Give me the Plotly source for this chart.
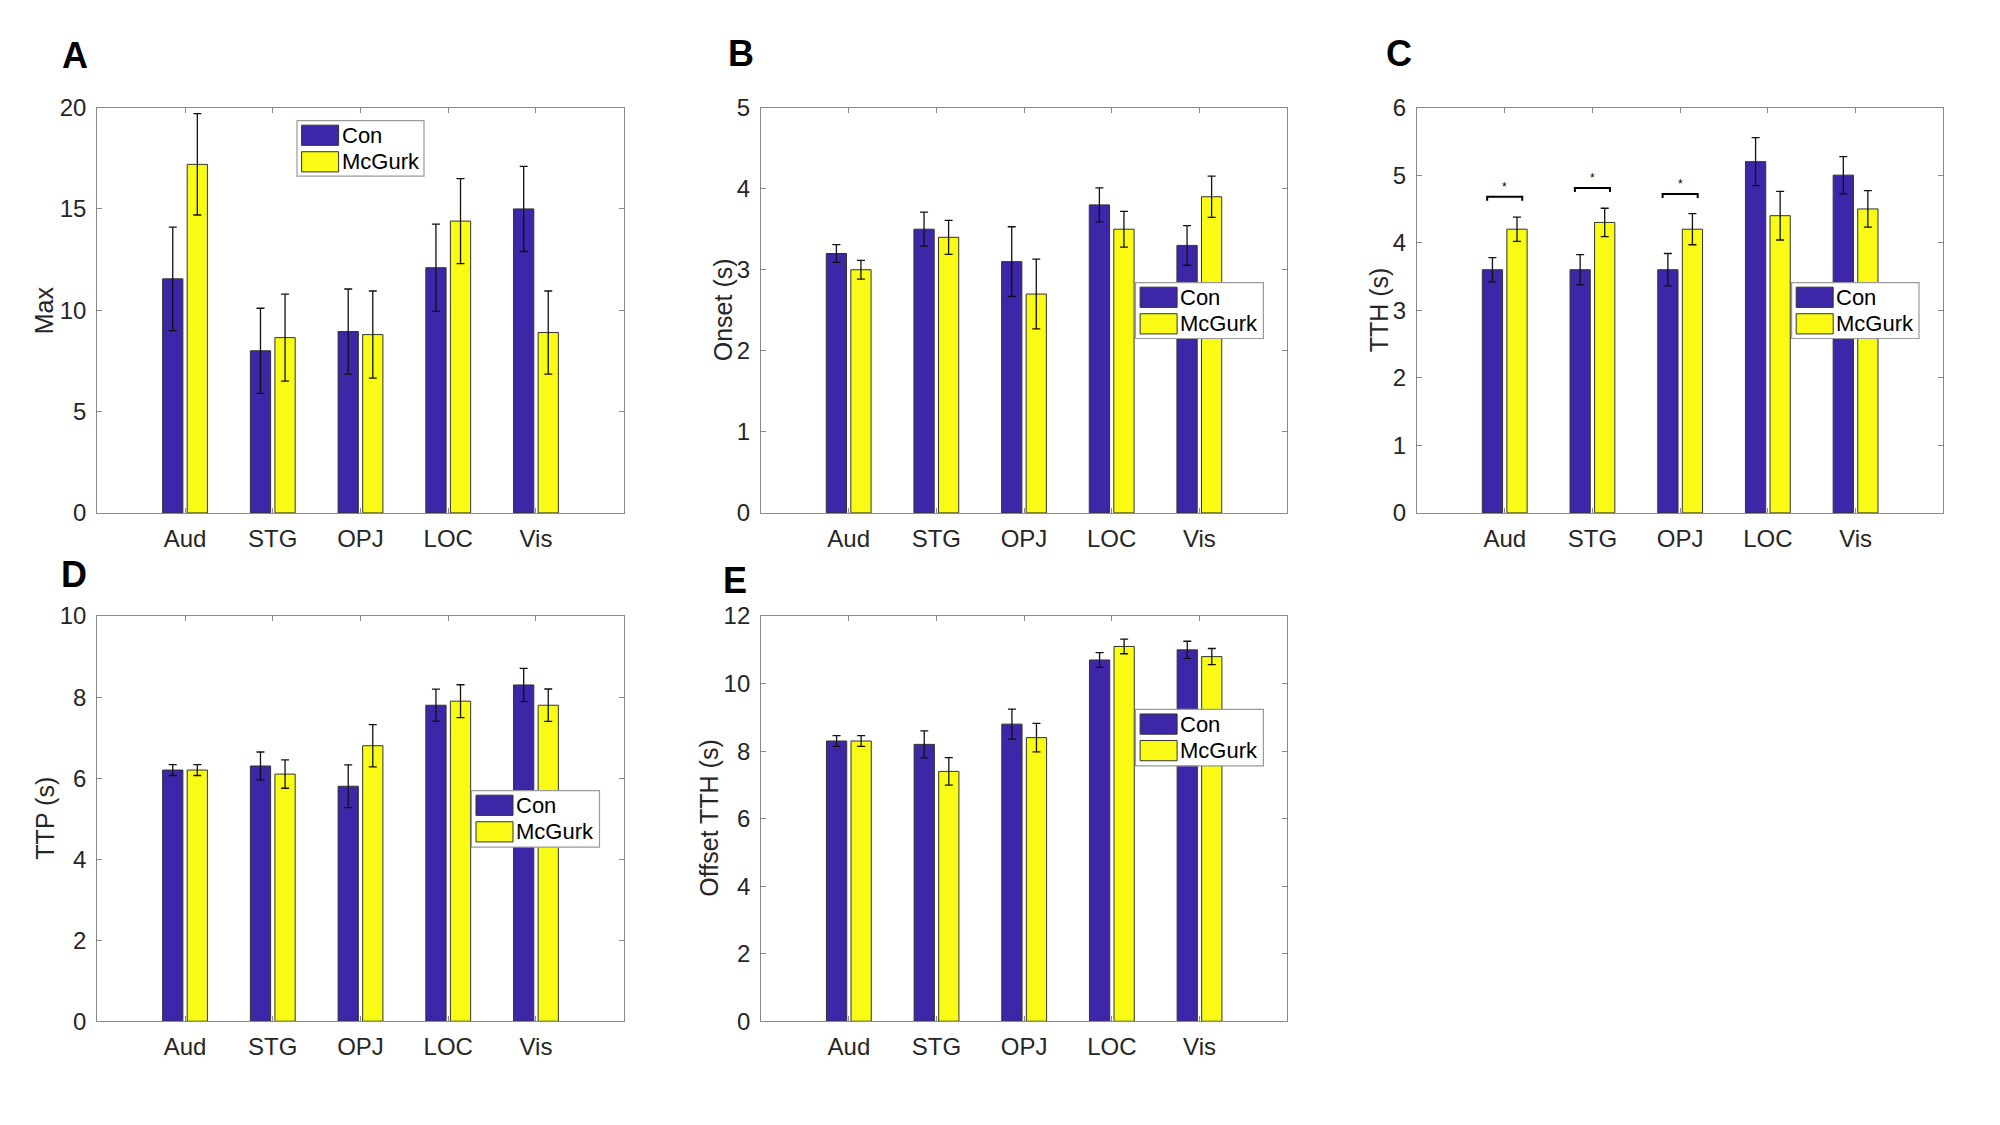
import plotly.graph_objects as go

# ---------------- data ----------------
categories = ["Aud", "STG", "OPJ", "LOC", "Vis"]
series_names = ["Con", "McGurk"]

max_con = [11.55, 8.0, 8.95, 12.1, 15.0]
max_con_err = [2.55, 2.1, 2.1, 2.15, 2.1]
max_mcg = [17.2, 8.65, 8.8, 14.4, 8.9]
max_mcg_err = [2.5, 2.15, 2.15, 2.1, 2.05]

onset_con = [3.2, 3.5, 3.1, 3.8, 3.3]
onset_con_err = [0.11, 0.21, 0.43, 0.21, 0.245]
onset_mcg = [3.0, 3.4, 2.7, 3.5, 3.9]
onset_mcg_err = [0.115, 0.21, 0.43, 0.22, 0.255]

tth_con = [3.6, 3.6, 3.6, 5.2, 5.0]
tth_con_err = [0.18, 0.225, 0.24, 0.355, 0.275]
tth_mcg = [4.2, 4.3, 4.2, 4.4, 4.5]
tth_mcg_err = [0.18, 0.21, 0.23, 0.36, 0.27]

ttp_con = [6.2, 6.3, 5.8, 7.8, 8.3]
ttp_con_err = [0.135, 0.345, 0.53, 0.395, 0.41]
ttp_mcg = [6.2, 6.1, 6.8, 7.9, 7.8]
ttp_mcg_err = [0.135, 0.35, 0.52, 0.405, 0.40]

off_con = [8.3, 8.2, 8.8, 10.7, 11.0]
off_con_err = [0.16, 0.4, 0.445, 0.22, 0.255]
off_mcg = [8.3, 7.4, 8.4, 11.1, 10.8]
off_mcg_err = [0.16, 0.405, 0.42, 0.215, 0.24]

# significance brackets in panel C: (category, bracket level, label)
sig_cats = ["Aud", "STG", "OPJ"]
sig_levels = [4.68, 4.81, 4.72]
sig_labels = ["*", "*", "*"]

# ---------------- styling ----------------
W, H = 2000, 1125
CON_COLOR = "rgb(62,38,168)"
MCG_COLOR = "rgb(249,251,21)"
EDGE = "#333333"
AXCOL = "#8a8a8a"
TXT = "#262626"
FONT = "Liberation Sans, Arial, Helvetica, sans-serif"


def px2x(px):
    return px / W


def px2y(py):
    return 1 - py / H


panels = [
    dict(letter="A", ytitle="Max", con=max_con, cerr=max_con_err, mcg=max_mcg, merr=max_mcg_err,
         yr=[0, 20], dt=5, box=(89.3, 615.7, 87.7, 503.0), lpos=(67, 34.5), yt_x=36,
         leg=(289, 101, 416, 158)),
    dict(letter="B", ytitle="Onset (s)", con=onset_con, cerr=onset_con_err, mcg=onset_mcg, merr=onset_mcg_err,
         yr=[0, 5], dt=1, box=(753.0, 1279.0, 87.7, 503.0), lpos=(733, 32), yt_x=715,
         leg=(1127.5, 267, 1255.4, 324.3)),
    dict(letter="C", ytitle="TTH (s)", con=tth_con, cerr=tth_con_err, mcg=tth_mcg, merr=tth_mcg_err,
         yr=[0, 6], dt=1, box=(1409.0, 1935.3, 87.7, 503.0), lpos=(1390.5, 32), yt_x=1371,
         leg=(1783.6, 267, 1911, 324.3)),
    dict(letter="D", ytitle="TTP (s)", con=ttp_con, cerr=ttp_con_err, mcg=ttp_mcg, merr=ttp_mcg_err,
         yr=[0, 10], dt=2, box=(89.3, 615.7, 608.7, 1023.8), lpos=(66.3, 566), yt_x=37,
         leg=(463.4, 787.5, 591.5, 845.4)),
    dict(letter="E", ytitle="Offset TTH (s)", con=off_con, cerr=off_con_err, mcg=off_mcg, merr=off_mcg_err,
         yr=[0, 12], dt=2, box=(753.2, 1279.2, 608.7, 1023.8), lpos=(727.4, 572), yt_x=701,
         leg=(1127.5, 704.3, 1255.4, 762.1)),
]

fig = go.Figure()
shapes = []
annotations = []

for i, p in enumerate(panels):
    n = "" if i == 0 else str(i + 1)
    xa, ya = "x" + n, "y" + n
    for name, vals, errs, col in [(series_names[0], p["con"], p["cerr"], CON_COLOR),
                                  (series_names[1], p["mcg"], p["merr"], MCG_COLOR)]:
        fig.add_trace(go.Bar(
            x=categories, y=vals, name=name, xaxis=xa, yaxis=ya, showlegend=False,
            marker=dict(color=col, line=dict(color=EDGE, width=1)),
            error_y=dict(type="data", array=errs, visible=True, color="#111111",
                         thickness=1.3, width=4),
        ))
    x0, x1, yt, yb = p["box"]
    axis_common = dict(showline=True, linecolor=AXCOL, linewidth=1.2, mirror="ticks",
                       ticks="inside", ticklen=5, tickcolor=AXCOL, showgrid=False,
                       zeroline=False, tickfont=dict(family=FONT, size=24, color=TXT))
    fig.layout["xaxis" + n] = dict(domain=[px2x(x0), px2x(x1)], anchor=ya,
                                   range=[-1, 5], type="category",
                                   ticklabelstandoff=4, **axis_common)
    fig.layout["yaxis" + n] = dict(domain=[px2y(yb), px2y(yt)], anchor=xa,
                                   range=p["yr"], dtick=p["dt"], tick0=0,
                                   ticklabelstandoff=5, **axis_common)
    # panel letter
    annotations.append(dict(text="<b>%s</b>" % p["letter"], x=px2x(p["lpos"][0]), y=px2y(p["lpos"][1]),
                            xref="paper", yref="paper", showarrow=False, xanchor="center", yanchor="middle",
                            font=dict(family=FONT, size=36, color="#000000")))
    # y title
    annotations.append(dict(text=p["ytitle"], x=px2x(p["yt_x"]), y=px2y((yt + yb) / 2),
                            xref="paper", yref="paper", showarrow=False, textangle=-90,
                            xanchor="center", yanchor="middle",
                            font=dict(family=FONT, size=25, color=TXT)))
    # legend box (drawn)
    lx0, ly0, lx1, ly1 = p["leg"]
    shapes.append(dict(type="rect", xref="paper", yref="paper",
                       x0=px2x(lx0), x1=px2x(lx1), y0=px2y(ly1), y1=px2y(ly0),
                       line=dict(color="#9a9a9a", width=1.2), fillcolor="white", layer="above"))
    for k, (name, col) in enumerate([(series_names[0], CON_COLOR), (series_names[1], MCG_COLOR)]):
        sy0 = ly0 + 4.7 + k * 27.2
        sy1 = sy0 + 20.7
        shapes.append(dict(type="rect", xref="paper", yref="paper",
                           x0=px2x(lx0 + 4.6), x1=px2x(lx0 + 41.6), y0=px2y(sy1), y1=px2y(sy0),
                           line=dict(color=EDGE, width=1), fillcolor=col, layer="above"))
        annotations.append(dict(text=name, x=px2x(lx0 + 42.5), y=px2y((sy0 + sy1) / 2),
                                xref="paper", yref="paper", showarrow=False,
                                xanchor="left", yanchor="middle",
                                font=dict(family=FONT, size=22, color="#000000")))

# significance brackets on panel C (axis x3/y3)
for cat, lvl, lab in zip(sig_cats, sig_levels, sig_labels):
    ci = categories.index(cat)
    shapes.append(dict(type="path", xref="x3", yref="y3",
                       path="M %f,%f L %f,%f L %f,%f L %f,%f" % (ci - 0.2, lvl - 0.06, ci - 0.2, lvl,
                                                                  ci + 0.2, lvl, ci + 0.2, lvl - 0.06),
                       line=dict(color="#000000", width=2)))
    annotations.append(dict(text=lab, x=ci, y=lvl + 0.01, xref="x3", yref="y3", showarrow=False,
                            xanchor="center", yanchor="bottom",
                            font=dict(family=FONT, size=12, color="#000000")))

fig.update_layout(
    width=W, height=H, margin=dict(l=0, r=0, t=0, b=0),
    paper_bgcolor="white", plot_bgcolor="white",
    barmode="group", bargap=0.44, bargroupgap=0.175,
    shapes=shapes, annotations=annotations, showlegend=False,
    font=dict(family=FONT, color=TXT),
)

fig.write_html("out.html")
